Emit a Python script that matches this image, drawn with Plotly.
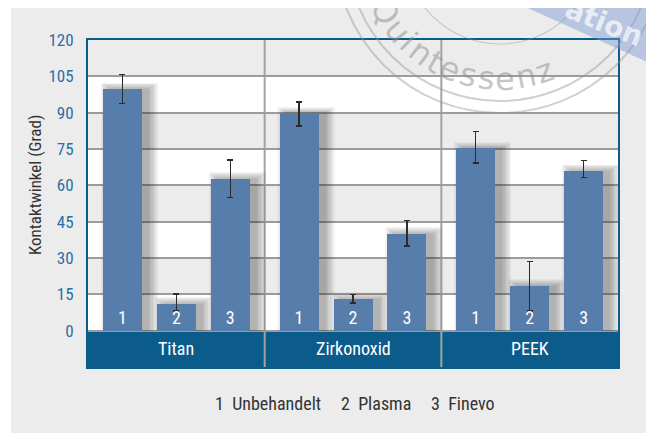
import math
import plotly.graph_objects as go

# ---------------- data ----------------
materials = ["Titan", "Zirkonoxid", "PEEK"]
treatment_nums = ["1", "2", "3"]
treatments = ["Unbehandelt", "Plasma", "Finevo"]

titan = [99.8, 11.1, 62.7]
zirkonoxid = [89.8, 13.2, 40.0]
peek = [75.3, 18.6, 66.0]

titan_err_plus = [6.0, 4.0, 7.8]
titan_err_minus = [6.0, 3.0, 7.7]
zirkonoxid_err_plus = [4.6, 1.8, 5.4]
zirkonoxid_err_minus = [5.4, 1.8, 5.1]
peek_err_plus = [7.0, 10.0, 4.2]
peek_err_minus = [6.0, 10.5, 2.8]

y_ticks = [0, 15, 30, 45, 60, 75, 90, 105, 120]
y_title = "Kontaktwinkel (Grad)"
stamp_word = "Quintessenz"
ribbon_word = "ation"

# ---------------- layout geometry ----------------
# the page body has an 8px margin, so the figure is drawn 8px in from the window corner
OFF = 8
W, H = 654 - OFF, 433 - OFF
ML, MR, MT, MB = 88 - OFF, 36, 40 - OFF, 66
PW, PH = W - ML - MR, H - MT - MB


def px2x(px):
    """window pixel x -> paper x"""
    return (px - OFF - ML) / PW


def py2y(py):
    """window pixel y -> paper y"""
    return (H + OFF - MB - py) / PH


FONT = "Roboto Condensed, DejaVu Sans Condensed, sans-serif"
BAR = "#577dab"
BLUE = "#0b5b8b"
TICKBLUE = "#2a6fa6"
GRID = "#9c9c9c"

values = titan + zirkonoxid + peek
err_plus = titan_err_plus + zirkonoxid_err_plus + peek_err_plus
err_minus = titan_err_minus + zirkonoxid_err_minus + peek_err_minus

slot = 0.3056
bw = 0.2207
xs = []
labels = []
for g, m in enumerate(materials):
    for i, n in enumerate(treatment_nums):
        xs.append(g + 0.5 + (i - 1) * slot)
        labels.append(n)

px_per_unit_x = PW / 3.0
px_per_unit_y = PH / 135.0

fig = go.Figure()

# soft drop shadows (derived from the bar values), cast mostly to the right
for k in range(8):
    grow = (k * 1.3) / px_per_unit_x
    fig.add_trace(go.Bar(
        x=[x + 7.0 / px_per_unit_x for x in xs],
        y=[v + (k * 0.9) / px_per_unit_y for v in values],
        width=bw + 2 * grow,
        marker=dict(color="rgba(30,30,30,0.05)", line=dict(width=0)),
        hoverinfo="skip", showlegend=False,
    ))

fig.add_trace(go.Bar(
    x=xs, y=values, width=bw,
    marker=dict(color=BAR, line=dict(width=0)),
    error_y=dict(type="data", symmetric=False, array=err_plus, arrayminus=err_minus,
                 color="#2b2b2b", thickness=1.5, width=3),
    showlegend=False,
))

fig.add_trace(go.Scatter(
    x=xs, y=[4.8] * len(xs), mode="text", text=labels,
    textfont=dict(family=FONT, size=18, color="white"),
    hoverinfo="skip", showlegend=False,
))

shapes = []
# grey panel with white strips at top and left
shapes.append(dict(type="rect", xref="paper", yref="paper",
                   x0=px2x(11), x1=px2x(680), y0=py2y(460), y1=py2y(4),
                   fillcolor="#ececec", line=dict(width=0), layer="below"))
# alternating white bands
for a in [0, 30, 60, 90]:
    shapes.append(dict(type="rect", xref="paper", yref="y", x0=0, x1=1, y0=a, y1=a + 15,
                       fillcolor="white", line=dict(width=0), layer="below"))
# category band
shapes.append(dict(type="rect", xref="paper", yref="y", x0=0, x1=1, y0=-15, y1=0,
                   fillcolor=BLUE, line=dict(width=0), layer="below"))
# group separators
for g in range(1, len(materials)):
    shapes.append(dict(type="line", xref="x", yref="y", x0=g, x1=g, y0=-15, y1=120,
                       line=dict(color="#a3a3a3", width=2), layer="below"))

# watermark stamp
cx, cy = 500, -52
for r, w in [(165, 2), (153, 2), (96, 1.2)]:
    shapes.append(dict(type="circle", xref="paper", yref="paper",
                       x0=px2x(cx - r), x1=px2x(cx + r), y0=py2y(cy + r), y1=py2y(cy - r),
                       line=dict(color="rgba(150,150,150,0.45)", width=w), layer="above"))
# ribbon
slope = 65.0 / 144.0
p1 = (510 - 60, -60 * slope)
p2 = (720, (720 - 510) * slope)
ribbon = [p1, p2, (720, -200), (300, -200)]
path = "M " + " L ".join(f"{px2x(a)},{py2y(b)}" for a, b in ribbon) + " Z"
shapes.append(dict(type="path", xref="paper", yref="paper", path=path,
                   fillcolor="rgba(120,150,210,0.45)", line=dict(width=0), layer="above"))

annotations = []
# category labels
for g, m in enumerate(materials):
    annotations.append(dict(x=g + 0.5, y=-7.5, xref="x", yref="y", text=m, showarrow=False,
                            xanchor="center", yanchor="middle",
                            font=dict(family=FONT, size=18, color="white")))
# y title
annotations.append(dict(x=px2x(35), y=py2y(185), xref="paper", yref="paper", text=y_title,
                        textangle=-90, showarrow=False, xanchor="center", yanchor="middle",
                        font=dict(family=FONT, size=17, color="#333333")))
# bottom key
key_x = [213, 339, 429]
for n, t, kx in zip(treatment_nums, treatments, key_x):
    annotations.append(dict(x=px2x(kx), y=py2y(403), xref="paper", yref="paper",
                            xanchor="left", yanchor="middle",
                            text=n + "\u00a0\u00a0" + t, showarrow=False,
                            font=dict(family=FONT, size=18, color="#333333")))

# curved stamp word
adv = {"Q": 0.79, "u": 0.63, "i": 0.28, "n": 0.63, "t": 0.39, "e": 0.62, "s": 0.52, "z": 0.52}
fs = 32
track = 1.0
centers = []
s = 0.0
for ch in stamp_word:
    wpx = adv.get(ch, 0.6) * fs
    centers.append(s + wpx / 2)
    s += wpx + track
r_txt = 131
phi_end = math.radians(70)
for ch, c in zip(stamp_word, centers):
    phi = phi_end + (centers[-1] - c) / r_txt
    lx = cx + r_txt * math.cos(phi)
    ly = cy + r_txt * math.sin(phi)
    annotations.append(dict(x=px2x(lx), y=py2y(ly), xref="paper", yref="paper", text=ch,
                            textangle=math.degrees(phi) - 90, showarrow=False,
                            xanchor="center", yanchor="middle",
                            font=dict(family="DejaVu Sans", size=fs, color="rgba(140,140,140,0.5)")))
# ribbon word
annotations.append(dict(x=px2x(604), y=py2y(22), xref="paper", yref="paper", text=ribbon_word,
                        textangle=22, showarrow=False, xanchor="center", yanchor="middle",
                        font=dict(family="DejaVu Sans", size=28, weight="bold",
                                  color="rgba(255,255,255,0.7)")))

fig.update_layout(
    width=W, height=H,
    margin=dict(l=ML, r=MR, t=MT, b=MB, pad=0),
    paper_bgcolor="white", plot_bgcolor="#ececec",
    barmode="overlay", bargap=0,
    shapes=shapes, annotations=annotations,
    showlegend=False,
    xaxis=dict(range=[0, 3], showgrid=False, zeroline=False, showticklabels=False,
               showline=True, mirror=True, linecolor=BLUE, linewidth=2, fixedrange=True),
    yaxis=dict(range=[-15, 120], tickvals=y_ticks, showgrid=True, gridcolor=GRID, gridwidth=2,
               zeroline=True, zerolinecolor=GRID, zerolinewidth=2,
               showline=True, mirror=True, linecolor=BLUE, linewidth=2,
               ticks="", ticklabelstandoff=9,
               tickfont=dict(family=FONT, size=17, color=TICKBLUE), fixedrange=True),
)

fig.write_html("out.html")
